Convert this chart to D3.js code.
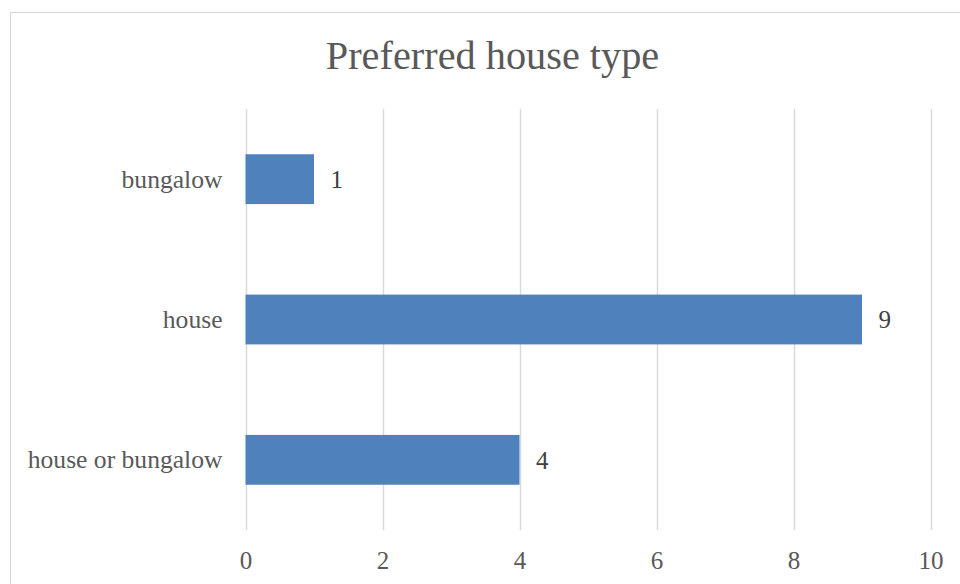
<!DOCTYPE html>
<html>
<head>
<meta charset="utf-8">
<script src="https://cdn.jsdelivr.net/npm/d3@7"></script>
<style>
  html, body { margin: 0; padding: 0; background: #ffffff; }
  svg { display: block; }
</style>
</head>
<body>
<svg id="chart" width="960" height="584"></svg>
<script>
// Survey answers: preferred type of home
const categories = ["bungalow", "house", "house or bungalow"];
const counts = [1, 9, 4];
const xTicks = [0, 2, 4, 6, 8, 10];
const chartTitle = "Preferred house type";

const W = 960, H = 584;
const font = "'Liberation Serif', 'Times New Roman', serif";
const svg = d3.select("#chart");

// chart frame (extends past the right and bottom edges)
svg.append("rect")
  .attr("x", 10.5).attr("y", 12.5)
  .attr("width", 1000).attr("height", 700)
  .attr("fill", "#ffffff")
  .attr("stroke", "#d9d9d9").attr("stroke-width", 1);

const plot = { left: 245.5, right: 930.5, top: 109, bottom: 530 };

const x = d3.scaleLinear().domain([0, 10]).range([plot.left, plot.right]);
const y = d3.scaleBand().domain(categories)
  .range([plot.top, plot.bottom]).paddingInner(0.645).paddingOuter(0.3225);

// vertical gridlines
svg.append("g")
  .selectAll("line").data(xTicks).join("line")
  .attr("x1", d => Math.round(x(d)) + 0.5).attr("x2", d => Math.round(x(d)) + 0.5)
  .attr("y1", plot.top).attr("y2", plot.bottom)
  .attr("stroke", "#d9d9d9").attr("stroke-width", 1.5);

// x axis labels
const xAxis = d3.axisBottom(x).tickValues(xTicks).tickSize(0).tickPadding(0);
const gx = svg.append("g").attr("transform", `translate(0, ${plot.bottom + 39})`).call(xAxis);
gx.select(".domain").remove();
gx.selectAll("text")
  .attr("dy", 0).attr("y", 0)
  .attr("font-family", font).attr("font-size", 25).attr("fill", "#595959");

// category labels
const yAxis = d3.axisLeft(y).tickSize(0).tickPadding(23);
const gy = svg.append("g").attr("transform", `translate(${plot.left}, 0)`).call(yAxis);
gy.select(".domain").remove();
gy.selectAll("text")
  .attr("dy", "0.33em")
  .attr("font-family", font).attr("font-size", 25.6).attr("fill", "#595959");

// bars
const rows = categories.map((c, i) => ({ cat: c, v: counts[i] }));
svg.append("g")
  .selectAll("rect").data(rows).join("rect")
  .attr("x", x(0))
  .attr("y", d => y(d.cat))
  .attr("width", d => x(d.v) - x(0))
  .attr("height", y.bandwidth())
  .attr("fill", "#4f81bd");

// value labels
svg.append("g")
  .selectAll("text").data(rows).join("text")
  .attr("x", d => x(d.v) + 16.5)
  .attr("y", d => y(d.cat) + y.bandwidth() / 2)
  .attr("dy", "0.35em")
  .attr("font-family", font).attr("font-size", 25).attr("fill", "#404040")
  .text(d => d.v);

// title
svg.append("text")
  .attr("x", 492.5).attr("y", 69)
  .attr("text-anchor", "middle")
  .attr("font-family", font).attr("font-size", 40.3).attr("fill", "#595959")
  .text(chartTitle);
</script>
</body>
</html>
